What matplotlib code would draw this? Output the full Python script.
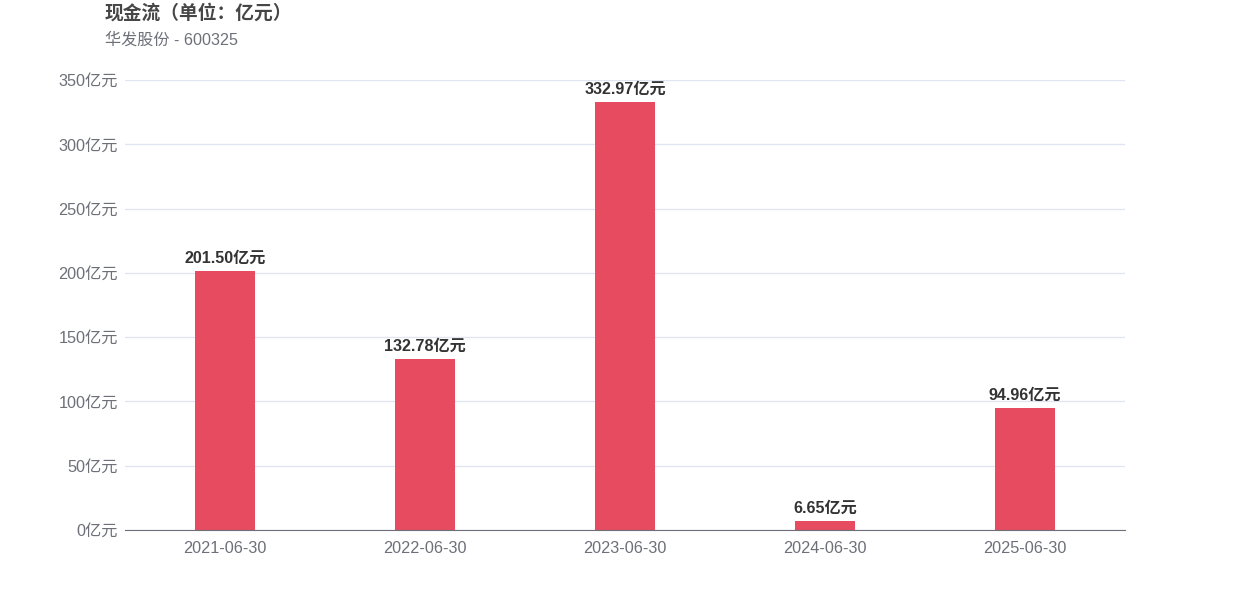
import matplotlib
matplotlib.use('Agg')
import matplotlib.pyplot as plt
import numpy as np

plt.rcParams['font.family'] = ['Liberation Sans', 'Noto Sans CJK SC', 'DejaVu Sans']

dates = ['2021-06-30', '2022-06-30', '2023-06-30', '2024-06-30', '2025-06-30']
values = [201.50, 132.78, 332.97, 6.65, 94.96]
yticks = [0, 50, 100, 150, 200, 250, 300, 350]

bar_color = '#E64B5F'
tick_color = '#6E7079'

fig = plt.figure(figsize=(12.5, 6), dpi=100)
ax = fig.add_axes([0.1, 0.1167, 0.8, 0.75])

x = np.arange(len(dates))
ax.bar(x, values, width=0.3, color=bar_color, zorder=3)

for xi, v in zip(x, values):
    ax.annotate(f'{v:.2f}亿元', (xi, v), xytext=(0, 4), textcoords='offset points',
                ha='center', va='bottom', fontsize=11.6, fontweight='bold', color='#333333')

ax.set_xlim(-0.5, len(dates) - 0.5)
ax.set_ylim(0, 350)
ax.set_xticks(x)
ax.set_xticklabels(dates)
ax.set_yticks(yticks)
ax.set_yticklabels([f'{t}亿元' for t in yticks])
ax.tick_params(axis='both', length=0, labelsize=11.7, colors=tick_color)
ax.tick_params(axis='x', pad=8)
ax.tick_params(axis='y', pad=5)

ax.grid(axis='y', color='#E0E6F1', linewidth=1, zorder=0)
for side in ['top', 'right', 'left']:
    ax.spines[side].set_visible(False)
ax.spines['bottom'].set_color(tick_color)
ax.spines['bottom'].set_zorder(4)

fig.text(105 / 1250, 1 - 13 / 600, '现金流（单位：亿元）', fontsize=13.5, fontweight='bold',
         color='#464646', ha='left', va='center')
fig.text(105 / 1250, 1 - 40 / 600, '华发股份 - 600325', fontsize=11.6, color='#6E7079',
         ha='left', va='center')

fig.savefig('out.png', dpi=100)
